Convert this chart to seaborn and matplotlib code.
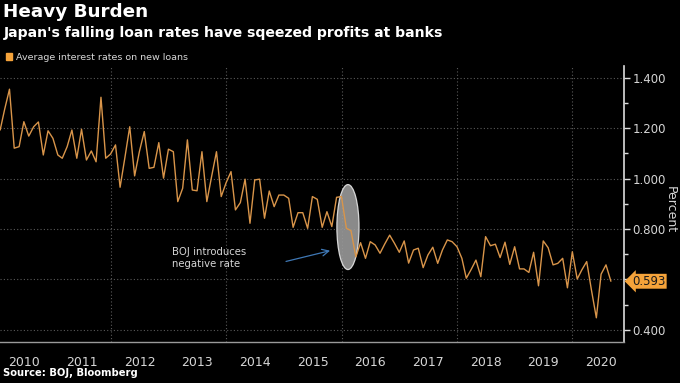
import numpy as np
import pandas as pd
import matplotlib
matplotlib.use("Agg")
import matplotlib.pyplot as plt
import matplotlib.dates as mdates
from matplotlib.patches import Ellipse, Patch
import seaborn as sns

# monthly average contract rates on new loans, Jan 2010 - Aug 2020
rate_2010 = [1.193, 1.274, 1.355, 1.121, 1.127, 1.226, 1.169, 1.206, 1.225, 1.094, 1.190, 1.160]
rate_2011 = [1.094, 1.081, 1.127, 1.193, 1.081, 1.196, 1.074, 1.110, 1.067, 1.323, 1.081, 1.098]
rate_2012 = [1.134, 0.966, 1.086, 1.206, 1.011, 1.107, 1.187, 1.041, 1.045, 1.143, 1.002, 1.117]
rate_2013 = [1.107, 0.909, 0.962, 1.154, 0.955, 0.952, 1.107, 0.909, 1.008, 1.107, 0.929, 0.984]
rate_2014 = [1.028, 0.876, 0.905, 0.998, 0.823, 0.995, 0.998, 0.843, 0.951, 0.889, 0.935, 0.935]
rate_2015 = [0.922, 0.807, 0.865, 0.865, 0.803, 0.929, 0.918, 0.807, 0.869, 0.810, 0.926, 0.929]
rate_2016 = [0.803, 0.794, 0.690, 0.746, 0.684, 0.750, 0.737, 0.704, 0.741, 0.776, 0.744, 0.708]
rate_2017 = [0.753, 0.665, 0.717, 0.724, 0.647, 0.697, 0.728, 0.664, 0.717, 0.757, 0.750, 0.730]
rate_2018 = [0.684, 0.605, 0.640, 0.677, 0.611, 0.770, 0.734, 0.740, 0.687, 0.748, 0.660, 0.730]
rate_2019 = [0.642, 0.642, 0.628, 0.708, 0.575, 0.753, 0.726, 0.658, 0.664, 0.684, 0.567, 0.710]
rate_2020 = [0.602, 0.638, 0.671, 0.558, 0.448, 0.621, 0.658, 0.593]

rates = (rate_2010 + rate_2011 + rate_2012 + rate_2013 + rate_2014 + rate_2015
         + rate_2016 + rate_2017 + rate_2018 + rate_2019 + rate_2020)
months = pd.date_range("2010-02-01", periods=len(rates), freq="MS") - pd.Timedelta(days=1)

years = list(range(2010, 2021))
grid_years = [2012, 2014, 2016, 2018, 2020]
y_ticks = [0.4, 0.6, 0.8, 1.0, 1.2, 1.4]

line_color = "#d9954a"
tag_color = "#f5a33a"
text_color = "#d6d6d6"

df = pd.DataFrame({"month": months, "rate": rates})

sns.set_theme(style="dark")
plt.rcParams["font.family"] = ["DejaVu Sans"]

fig = plt.figure(figsize=(6.8, 3.83), dpi=100, facecolor="black")
ax = fig.add_axes([0.0, 41 / 383, 624 / 680, 276 / 383])
ax.set_facecolor("black")

# highlight around the BOJ move to negative rates
ell = Ellipse((mdates.date2num(pd.Timestamp("2016-02-10")), 0.808), width=140, height=0.337,
              facecolor="#9a9a9a", edgecolor="#e6e6e6", linewidth=0.9, alpha=0.9, zorder=1)
ax.add_patch(ell)

sns.lineplot(data=df, x="month", y="rate", color=line_color, linewidth=1.0, ax=ax, zorder=3)

ax.set_xlim(pd.Timestamp("2010-01-30"), pd.Timestamp("2020-11-22"))
ax.set_ylim(0.352, 1.447)

# y axis on the right
ax.yaxis.tick_right()
ax.yaxis.set_label_position("right")
ax.set_yticks(y_ticks, labels=[f"{v:.3f}" for v in y_ticks])
ax.set_yticks(np.arange(0.5, 1.45, 0.2), minor=True)
ax.tick_params(axis="y", which="both", direction="out", color="#dddddd", width=1,
               labelcolor=text_color, labelsize=8.5, pad=2)
ax.tick_params(axis="y", which="major", length=4)
ax.tick_params(axis="y", which="minor", length=3)
ax.set_ylabel("Percent", rotation=270, color=text_color, fontsize=9, va="center")
ax.yaxis.set_label_coords(1.074, 0.48)

# year bands on the x axis
starts = [pd.Timestamp(f"{y}-01-01") for y in years[1:]]
mids = [pd.Timestamp(f"{y}-07-01") for y in years]
ax.set_xticks(starts, labels=[""] * len(starts))
ax.set_xticks(mids, labels=[str(y) for y in years], minor=True)
ax.tick_params(axis="x", which="major", length=20, width=0.8, color="#8a8a8a", direction="out")
ax.tick_params(axis="x", which="minor", length=0, pad=10, labelcolor=text_color, labelsize=9)
ax.set_xlabel("")

ax.grid(False)
for y in y_ticks:
    ax.axhline(y, color="#5a5a5a", linewidth=0.8, linestyle=(0, (1, 2)), zorder=0)
for y in grid_years:
    ax.axvline(pd.Timestamp(f"{y}-01-01"), color="#5a5a5a", linewidth=0.8,
               linestyle=(0, (1, 2)), zorder=0)

for side in ["top", "left"]:
    ax.spines[side].set_visible(False)
ax.spines["right"].set_color("#dddddd")
ax.spines["right"].set_linewidth(1.2)
ax.spines["bottom"].set_color("#9a9a9a")
ax.spines["bottom"].set_linewidth(1.0)

# annotation
ax.text(pd.Timestamp("2013-01-25"), 0.685, "BOJ introduces\nnegative rate", color=text_color,
        fontsize=7.3, va="center", ha="left", linespacing=1.2)
ax.annotate("", xy=(pd.Timestamp("2015-11-06"), 0.717), xytext=(pd.Timestamp("2014-12-28"), 0.669),
            arrowprops=dict(arrowstyle="->", color="#3f78b5", linewidth=0.9))

# last value tag
ax.annotate(f"{rates[-1]:.3f}", xy=(1.0, rates[-1]), xycoords=("axes fraction", "data"),
            xytext=(6, 0), textcoords="offset points", va="center", ha="left",
            fontsize=8.5, color="#1a1a1a",
            bbox=dict(boxstyle="larrow,pad=0.08", fc=tag_color, ec="none"))

# titles, legend, source
fig.text(0.005, 0.992, "Heavy Burden", color="white", fontsize=13.2, fontweight="bold",
         va="top", ha="left")
fig.text(0.005, 0.932, "Japan's falling loan rates have sqeezed profits at banks", color="white",
         fontsize=10.1, fontweight="bold", va="top", ha="left")
fig.legend(handles=[Patch(color=tag_color, label="Average interest rates on new loans")],
           loc="center left", bbox_to_anchor=(-0.004, 0.851), frameon=False, fontsize=6.8,
           labelcolor=text_color, handlelength=0.7, handleheight=0.7, handletextpad=0.4)
fig.text(0.005, 0.012, "Source: BOJ, Bloomberg", color="white", fontsize=7.2,
         fontweight="bold", va="bottom", ha="left")

fig.savefig("out.png", dpi=100, facecolor="black")
